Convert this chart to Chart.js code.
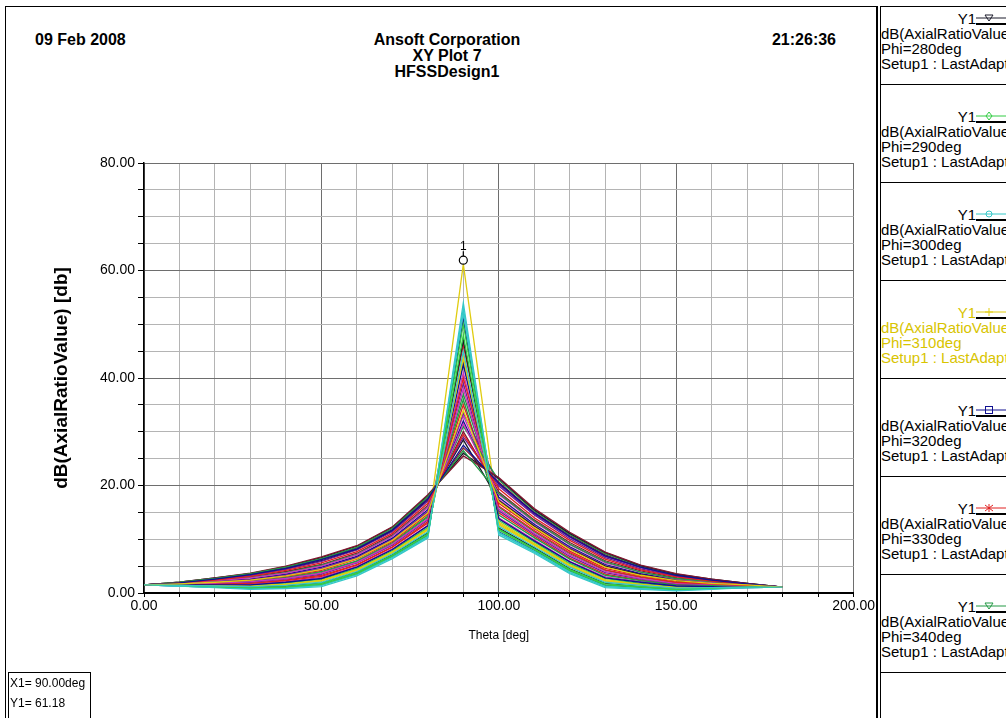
<!DOCTYPE html>
<html>
<head>
<meta charset="utf-8">
<script src="https://cdn.jsdelivr.net/npm/chart.js@4.4.1/dist/chart.umd.min.js"></script>
<style>
  body { margin: 0; background: #fff; font-family: "Liberation Sans", Arial, sans-serif; }
  #page { position: relative; width: 1006px; height: 718px; overflow: hidden; background: #fff; }
  #frame { position: absolute; left: 5px; top: 6px; width: 873px; height: 730px; border: 1px solid #000; border-right: 2px solid #000; box-sizing: border-box; }
  #plotbox { position: absolute; left: 0; top: 0; width: 876px; height: 718px; }
  .hdr { position: absolute; top: 32px; font-weight: bold; font-size: 16px; line-height: 16px; color: #000; white-space: nowrap; }
  #legend { position: absolute; left: 880px; top: 6px; width: 200px; height: 730px; border-left: 1px solid #000; border-top: 1px solid #000; }
  .blk { position: absolute; left: 0; width: 200px; font-size: 15px; line-height: 15px; white-space: nowrap; }
  .sep { position: absolute; left: 0; width: 200px; height: 0; border-top: 1px solid #000; }
  .y1 { position: absolute; left: 70px; width: 25px; text-align: right; }
  .sym { position: absolute; left: 95px; }
  #cursor { position: absolute; left: 8px; top: 672px; width: 83px; height: 60px; border: 1px solid #000; font-size: 12px; line-height: 20px; padding-left: 1px; box-sizing: border-box; }
</style>
</head>
<body>
<div id="page">
  <div id="frame"></div>
  <div class="hdr" style="left:35px">09 Feb 2008</div>
  <div class="hdr" style="left:347px;width:200px;text-align:center">Ansoft Corporation<br>XY Plot 7<br>HFSSDesign1</div>
  <div class="hdr" style="left:736px;width:100px;text-align:right">21:26:36</div>
  <div id="plotbox"><canvas id="chart"></canvas></div>
  <div id="legend"></div>
  <div id="cursor">X1= 90.00deg<br>Y1= 61.18</div>
</div>
<script>
// ---- data: dB(AxialRatioValue) vs Theta, one curve per Phi cut
const theta = [0, 10, 20, 30, 40, 50, 60, 70, 80, 90, 100, 110, 120, 130, 140, 150, 160, 170, 180];
const phis = [0, 10, 20, 30, 40, 50, 60, 70, 80, 90, 100, 110, 120, 130, 140, 150, 160, 170,
              180, 190, 200, 210, 220, 230, 240, 250, 260, 270, 280, 290, 300, 310, 320, 330, 340, 350];

const ar000 = [1.5, 1.4, 1.3, 1.2, 1.4, 2.0, 4.0, 7.3, 11.4, 45, 12.4, 8.6, 4.8, 2.0, 1.4, 0.9, 1.0, 1.1, 1.1];
const ar010 = [1.5, 1.7, 2.0, 2.4, 3.2, 4.4, 6.4, 9.8, 14.9, 34, 17.0, 12.2, 8.1, 4.8, 3.3, 2.3, 1.8, 1.5, 1.1];
const ar020 = [1.5, 1.9, 2.6, 3.4, 4.6, 6.2, 8.2, 11.7, 17.5, 27.5, 20.4, 14.9, 10.5, 6.9, 4.8, 3.3, 2.4, 1.7, 1.1];
const ar030 = [1.5, 1.9, 2.4, 3.1, 4.2, 5.6, 7.7, 11.1, 16.7, 29.5, 19.4, 14.0, 9.8, 6.3, 4.3, 3.0, 2.2, 1.6, 1.1];
const ar040 = [1.5, 2.0, 2.7, 3.6, 4.8, 6.4, 8.5, 12.0, 17.9, 26.5, 18.5, 13.4, 9.1, 5.8, 3.9, 2.7, 2.1, 1.6, 1.1];
const ar050 = [1.5, 1.8, 2.3, 2.8, 3.7, 5.0, 7.1, 10.5, 15.9, 31.5, 18.3, 13.2, 9.0, 5.6, 3.9, 2.6, 2.0, 1.6, 1.1];
const ar060 = [1.5, 1.9, 2.5, 3.3, 4.4, 5.9, 8.0, 11.4, 17.1, 29, 19.9, 14.5, 10.1, 6.6, 4.5, 3.1, 2.3, 1.7, 1.1];
const ar070 = [1.5, 2.0, 2.8, 3.7, 5.0, 6.7, 8.8, 12.3, 18.3, 25.5, 21.5, 15.7, 11.3, 7.6, 5.2, 3.6, 2.6, 1.8, 1.1];
const ar080 = [1.5, 2.0, 2.8, 3.6, 4.9, 6.6, 8.7, 12.2, 18.1, 26, 21.3, 15.5, 11.1, 7.5, 5.1, 3.5, 2.6, 1.8, 1.1];
const ar090 = [1.5, 1.4, 1.2, 1.0, 1.2, 1.8, 3.8, 7.0, 11.0, 48, 11.9, 8.2, 4.4, 1.7, 1.2, 0.7, 0.9, 1.1, 1.1];
const ar100 = [1.5, 1.3, 1.0, 0.7, 0.8, 1.2, 3.2, 6.4, 10.2, 54, 10.8, 7.4, 3.6, 1.0, 0.7, 0.4, 0.7, 1.0, 1.1];
const ar110 = [1.5, 1.4, 1.3, 1.2, 1.6, 2.2, 4.2, 7.5, 11.7, 44, 12.7, 8.9, 5.0, 2.2, 1.5, 1.0, 1.0, 1.1, 1.1];
const ar120 = [1.5, 1.5, 1.5, 1.5, 2.0, 2.7, 4.8, 8.1, 12.5, 42.5, 13.8, 9.7, 5.8, 2.8, 2.0, 1.3, 1.2, 1.2, 1.1];
const ar130 = [1.5, 1.5, 1.6, 1.8, 2.3, 3.1, 5.2, 8.5, 13.0, 40, 16.2, 11.6, 7.5, 4.3, 3.0, 2.0, 1.7, 1.4, 1.1];
const ar140 = [1.5, 1.8, 2.3, 2.9, 3.8, 5.2, 7.2, 10.6, 16.0, 31, 21.0, 15.3, 10.9, 7.3, 5.0, 3.4, 2.5, 1.8, 1.1];
const ar150 = [1.5, 1.6, 1.8, 2.1, 2.7, 3.7, 5.7, 9.1, 13.8, 38, 15.6, 11.1, 7.1, 4.0, 2.7, 1.8, 1.6, 1.4, 1.1];
const ar160 = [1.5, 1.7, 2.1, 2.5, 3.3, 4.5, 6.6, 9.9, 15.1, 33.5, 20.2, 14.7, 10.4, 6.8, 4.7, 3.2, 2.4, 1.7, 1.1];
const ar170 = [1.5, 1.9, 2.7, 3.5, 4.7, 6.3, 8.4, 11.8, 17.7, 27, 20.6, 15.0, 10.7, 7.1, 4.8, 3.3, 2.4, 1.7, 1.1];
const ar180 = [1.5, 1.9, 2.6, 3.3, 4.5, 6.0, 8.1, 11.6, 17.3, 28.5, 17.2, 12.4, 8.2, 5.0, 3.4, 2.3, 1.8, 1.5, 1.1];
const ar190 = [1.5, 1.4, 1.1, 0.9, 1.1, 1.6, 3.6, 6.9, 10.8, 50, 11.7, 8.1, 4.2, 1.5, 1.1, 0.7, 0.9, 1.1, 1.1];
const ar200 = [1.5, 1.3, 1.1, 0.9, 1.0, 1.5, 3.5, 6.7, 10.6, 52, 11.3, 7.8, 4.0, 1.3, 0.9, 0.6, 0.8, 1.0, 1.1];
const ar210 = [1.5, 1.4, 1.4, 1.3, 1.6, 2.3, 4.3, 7.6, 11.8, 43, 12.9, 9.1, 5.1, 2.3, 1.6, 1.0, 1.1, 1.2, 1.1];
const ar220 = [1.5, 1.8, 2.2, 2.6, 3.5, 4.8, 6.8, 10.2, 15.5, 32, 17.8, 12.8, 8.6, 5.3, 3.6, 2.5, 1.9, 1.5, 1.1];
const ar230 = [1.5, 1.7, 2.0, 2.4, 3.1, 4.2, 6.3, 9.6, 14.7, 35, 16.7, 12.0, 7.8, 4.6, 3.2, 2.2, 1.7, 1.4, 1.1];
const ar240 = [1.5, 1.7, 1.9, 2.2, 2.9, 4.0, 6.0, 9.4, 14.3, 36, 14.5, 10.3, 6.3, 3.3, 2.3, 1.5, 1.4, 1.3, 1.1];
const ar250 = [1.5, 1.5, 1.5, 1.6, 2.1, 2.9, 4.9, 8.2, 12.6, 41, 14.0, 9.9, 5.9, 3.0, 2.1, 1.4, 1.3, 1.2, 1.1];
const ar260 = [1.5, 1.6, 1.8, 2.0, 2.6, 3.5, 5.6, 8.9, 13.6, 39, 15.3, 10.9, 6.8, 3.8, 2.6, 1.7, 1.5, 1.3, 1.1];
const ar270 = [1.5, 1.8, 2.4, 3.0, 4.0, 5.3, 7.4, 10.8, 16.3, 30, 18.8, 13.6, 9.4, 6.0, 4.1, 2.8, 2.1, 1.6, 1.1];
const ar280 = [1.5, 1.4, 1.2, 1.1, 1.3, 1.9, 3.9, 7.1, 11.2, 47, 12.1, 8.4, 4.5, 1.8, 1.2, 0.8, 0.9, 1.1, 1.1];
const ar290 = [1.5, 1.5, 1.5, 1.5, 1.9, 2.6, 4.6, 7.9, 12.2, 43, 13.5, 9.5, 5.5, 2.7, 1.8, 1.2, 1.2, 1.2, 1.1];
const ar300 = [1.5, 1.3, 1.1, 0.8, 0.9, 1.4, 3.4, 6.6, 10.4, 53, 11.1, 7.6, 3.8, 1.2, 0.8, 0.5, 0.8, 1.0, 1.1];
const ar310 = [1.5, 1.5, 1.4, 1.4, 1.7, 2.4, 4.4, 7.7, 12.0, 61.18, 13.2, 9.2, 5.3, 2.5, 1.7, 1.1, 1.1, 1.2, 1.1];
const ar320 = [1.5, 1.3, 1.1, 0.9, 1.1, 1.5, 3.5, 6.8, 10.7, 51, 11.4, 7.9, 4.1, 1.4, 1.0, 0.6, 0.8, 1.0, 1.1];
const ar330 = [1.5, 1.6, 1.7, 1.8, 2.4, 3.3, 5.3, 8.6, 13.3, 46, 14.9, 10.6, 6.5, 3.5, 2.4, 1.6, 1.4, 1.3, 1.1];
const ar340 = [1.5, 1.6, 1.9, 2.1, 2.8, 3.8, 5.9, 9.2, 14.1, 37, 16.0, 11.4, 7.3, 4.2, 2.9, 1.9, 1.6, 1.4, 1.1];
const ar350 = [1.5, 1.7, 2.1, 2.6, 3.4, 4.6, 6.7, 10.1, 15.2, 33, 17.4, 12.5, 8.4, 5.1, 3.5, 2.4, 1.9, 1.5, 1.1];

const curves = [ar000, ar010, ar020, ar030, ar040, ar050, ar060, ar070, ar080, ar090, ar100, ar110,
                ar120, ar130, ar140, ar150, ar160, ar170, ar180, ar190, ar200, ar210, ar220, ar230,
                ar240, ar250, ar260, ar270, ar280, ar290, ar300, ar310, ar320, ar330, ar340, ar350];

// marker m1
const markerX = 90;
const markerY = 61.18;

// legend entries visible in the side panel
const legendPhis = [280, 290, 300, 310, 320, 330, 340];
const legendShapes = ['tri', 'diamond', 'circle', 'plus', 'square', 'star', 'tri'];

// trace colours, repeating every 10 phi steps
const palette = ['#35c8c8', '#e0cc10', '#101090', '#e02020', '#229944',
                 '#cc33bb', '#6a1e9a', '#801830', '#1a1a2a', '#33cc44'];
function colorFor(phi) { return palette[(phi / 10) % 10]; }

// ---- legend panel
function symbolSvg(shape, c) {
    let m = '';
    if (shape == 'tri') m = '<polygon points="9,2 17,2 13,8" fill="none" stroke="' + c + '"/>';
    if (shape == 'diamond') m = '<polygon points="13,1 16,5 13,9 10,5" fill="none" stroke="' + c + '"/>';
    if (shape == 'circle') m = '<circle cx="13" cy="5" r="3" fill="none" stroke="' + c + '"/>';
    if (shape == 'plus') m = '<path d="M13,1 V9 M9,5 H17" stroke="' + c + '"/>';
    if (shape == 'square') m = '<rect x="9.5" y="1.5" width="7" height="7" fill="none" stroke="' + c + '"/>';
    if (shape == 'star') m = '<path d="M13,1 V9 M9,2 L17,8 M17,2 L9,8" stroke="' + c + '"/>';
    return '<svg width="40" height="14" style="display:block">' +
        '<line x1="0" y1="5" x2="40" y2="5" stroke="' + c + '" stroke-width="1"/>' + m +
        '<line x1="-2" y1="11" x2="40" y2="11" stroke="#000" stroke-width="2"/></svg>';
}

const legend = document.getElementById('legend');
let html = '';
legendPhis.forEach((phi, k) => {
    const top = 98 * k;
    const c = colorFor(phi);
    const txt = phi == 310 ? '#d8c400' : '#000';
    html += '<div class="blk" style="top:' + (top + 4) + 'px;color:' + txt + '">' +
        '<div class="y1" style="top:0">Y1</div>' +
        '<div class="sym" style="top:2px">' + symbolSvg(legendShapes[k], c) + '</div>' +
        '<div style="position:absolute;left:0;top:15px">dB(AxialRatioValue)<br>Phi=' + phi + 'deg<br>Setup1 : LastAdaptive</div></div>';
    html += '<div class="sep" style="top:' + (top + 77) + 'px"></div>';
});
legend.innerHTML = html;

// ---- chart
const datasets = curves.map((vals, i) => ({
    label: 'Phi=' + phis[i] + 'deg',
    data: vals.map((v, j) => ({ x: theta[j], y: v })),
    borderColor: colorFor(phis[i]),
    borderWidth: 1.3,
    pointRadius: 0,
    tension: 0,
    fill: false
}));

const peakMarker = {
    id: 'peakMarker',
    afterDatasetsDraw(chart) {
        const { ctx, scales: { x, y } } = chart;
        const px = x.getPixelForValue(markerX);
        const py = y.getPixelForValue(markerY);
        ctx.save();
        ctx.strokeStyle = '#000';
        ctx.lineWidth = 1.2;
        ctx.fillStyle = '#fff';
        ctx.beginPath();
        ctx.arc(px, py - 4, 4, 0, Math.PI * 2);
        ctx.fill();
        ctx.stroke();
        ctx.beginPath();
        ctx.moveTo(px, py - 8);
        ctx.lineTo(px, py - 13);
        ctx.stroke();
        ctx.fillStyle = '#000';
        ctx.font = '12px "Liberation Sans"';
        ctx.textAlign = 'center';
        ctx.fillText('1', px, py - 14);
        ctx.restore();
    }
};

const tickFont = { family: '"Liberation Sans", Arial', size: 14 };

new Chart(document.getElementById('chart'), {
    type: 'line',
    data: { datasets: datasets },
    plugins: [peakMarker],
    options: {
        responsive: true,
        maintainAspectRatio: false,
        animation: false,
        layout: { padding: { left: 0, top: 163, right: 22, bottom: 0 } },
        plugins: { legend: { display: false }, tooltip: { enabled: false } },
        scales: {
            x: {
                type: 'linear',
                min: 0,
                max: 200,
                afterFit: (s) => { s.height = 125; },
                ticks: {
                    stepSize: 10,
                    autoSkip: false,
                    maxRotation: 0,
                    color: '#000',
                    font: tickFont,
                    padding: 1,
                    callback: (v) => (v % 50 === 0 ? v.toFixed(2) : '')
                },
                grid: {
                    color: (c) => (c.tick && c.tick.value % 50 === 0 ? '#6e6e6e' : '#b4b4b4'),
                    tickColor: '#000',
                    tickLength: 4
                },
                border: { color: '#000', width: 2 },
                title: {
                    display: true,
                    text: 'Theta [deg]',
                    color: '#000',
                    font: { family: '"Liberation Sans", Arial', size: 12 },
                    padding: { top: 0, bottom: 75 }
                }
            },
            y: {
                min: 0,
                max: 80,
                afterFit: (s) => { s.width = 144; },
                ticks: {
                    stepSize: 5,
                    autoSkip: false,
                    color: '#000',
                    font: tickFont,
                    padding: 3,
                    callback: (v) => (v % 20 === 0 ? v.toFixed(2) : '')
                },
                grid: {
                    color: (c) => (c.tick && c.tick.value % 20 === 0 ? '#6e6e6e' : '#b4b4b4'),
                    tickColor: '#000',
                    tickLength: 6
                },
                border: { color: '#000', width: 1.5 },
                title: {
                    display: true,
                    text: 'dB(AxialRatioValue) [db]',
                    color: '#000',
                    font: { family: '"Liberation Sans", Arial', size: 19, weight: 'bold' },
                    padding: { top: 50, bottom: 0 }
                }
            }
        }
    }
});
</script>
</body>
</html>
